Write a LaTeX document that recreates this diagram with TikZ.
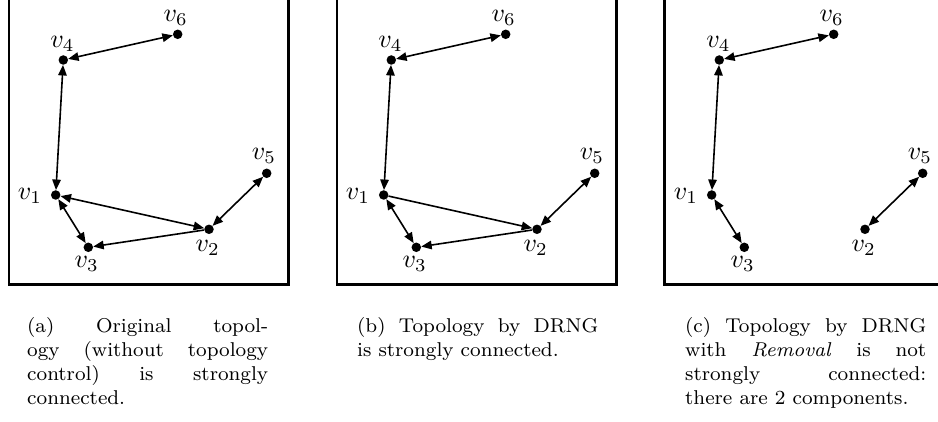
\documentclass[tikz,border=0pt]{standalone}
\usetikzlibrary{arrows.meta}
\newcommand\vlabtext[1]{\scalebox{2.6}{$v_{#1}$}}
\newcommand\mkpanel[2]{%
  \node[dot] (#1v1) at (55.7+#2,195) {};
  \node[dot] (#1v2) at (209+#2,229.3) {};
  \node[dot] (#1v3) at (88.3+#2,247.3) {};
  \node[dot] (#1v4) at (63.3+#2,60) {};
  \node[dot] (#1v5) at (266.7+#2,173.3) {};
  \node[dot] (#1v6) at (177.7+#2,34.3) {};
  \node[vlab] (#1l1) at (30+#2,196) {\vlabtext{1}};
  \node[vlab] (#1l2) at (207.7+#2,247.5) {\vlabtext{2}};
  \node[vlab] (#1l3) at (86.7+#2,264) {\vlabtext{3}};
  \node[vlab] (#1l4) at (62.5+#2,43.5) {\vlabtext{4}};
  \node[vlab] (#1l5) at (264+#2,156) {\vlabtext{5}};
  \node[vlab] (#1l6) at (175.7+#2,17.5) {\vlabtext{6}};
}
\begin{document}
\begin{tikzpicture}[x=1pt,y=-1pt,
  dot/.style={circle,fill=black,inner sep=0pt,minimum size=9.5pt},
  edge/.style={line width=1.6pt},
  bi/.style={edge,{Triangle[length=10.5pt,width=8.5pt]}-{Triangle[length=10.5pt,width=8.5pt]}},
  uni/.style={edge,-{Triangle[length=10.5pt,width=8.5pt]}},
  vlab/.style={inner sep=0pt,font=\fontsize{10}{12}\selectfont},
  frame/.style={line width=2.6pt},
  capnode/.style={inner sep=0pt,anchor=base west}]
\useasboundingbox (0,0) rectangle (938,422);
\clip (0,0) rectangle (938,422);
\draw[frame] (9,-10) rectangle (288.3,284.5);
\draw[frame] (337,-10) rectangle (616.7,284.5);
\draw[frame] (664.3,-10) rectangle (943.5,284.5);
\mkpanel{a}{0}
\mkpanel{b}{328}
\mkpanel{c}{656}
% panel (a)
\draw[bi] (av4) -- (av6);
\draw[bi] (av4) -- (av1);
\draw[bi] (av1) -- (av2);
\draw[uni] (av2) -- (av3);
\draw[bi] (av1) -- (av3);
\draw[bi] (av2) -- (av5);
% panel (b)
\draw[bi] (bv4) -- (bv6);
\draw[bi] (bv4) -- (bv1);
\draw[uni] (bv1) -- (bv2);
\draw[uni] (bv2) -- (bv3);
\draw[bi] (bv1) -- (bv3);
\draw[bi] (bv2) -- (bv5);
% panel (c)
\draw[bi] (cv4) -- (cv6);
\draw[bi] (cv4) -- (cv1);
\draw[bi] (cv1) -- (cv3);
\draw[bi] (cv2) -- (cv5);
% captions
\node[capnode] (capa) at (27,333) {\scalebox{2.5}{\parbox[t]{96.4pt}{\fontsize{8}{9.5}\selectfont (a) Original topol-\linebreak ogy (without topology\linebreak control) is strongly\linebreak connected.}}};
\node[capnode] (capb) at (357,333) {\scalebox{2.5}{\parbox[t]{96.4pt}{\fontsize{8}{9.5}\selectfont (b) Topology by DRNG\linebreak is strongly connected.}}};
\node[capnode] (capc) at (685,333) {\scalebox{2.5}{\parbox[t]{96.4pt}{\fontsize{8}{9.5}\selectfont (c) Topology by DRNG\linebreak with \emph{Removal} is not\linebreak strongly connected:\linebreak there are 2 components.}}};
\end{tikzpicture}
\end{document}
